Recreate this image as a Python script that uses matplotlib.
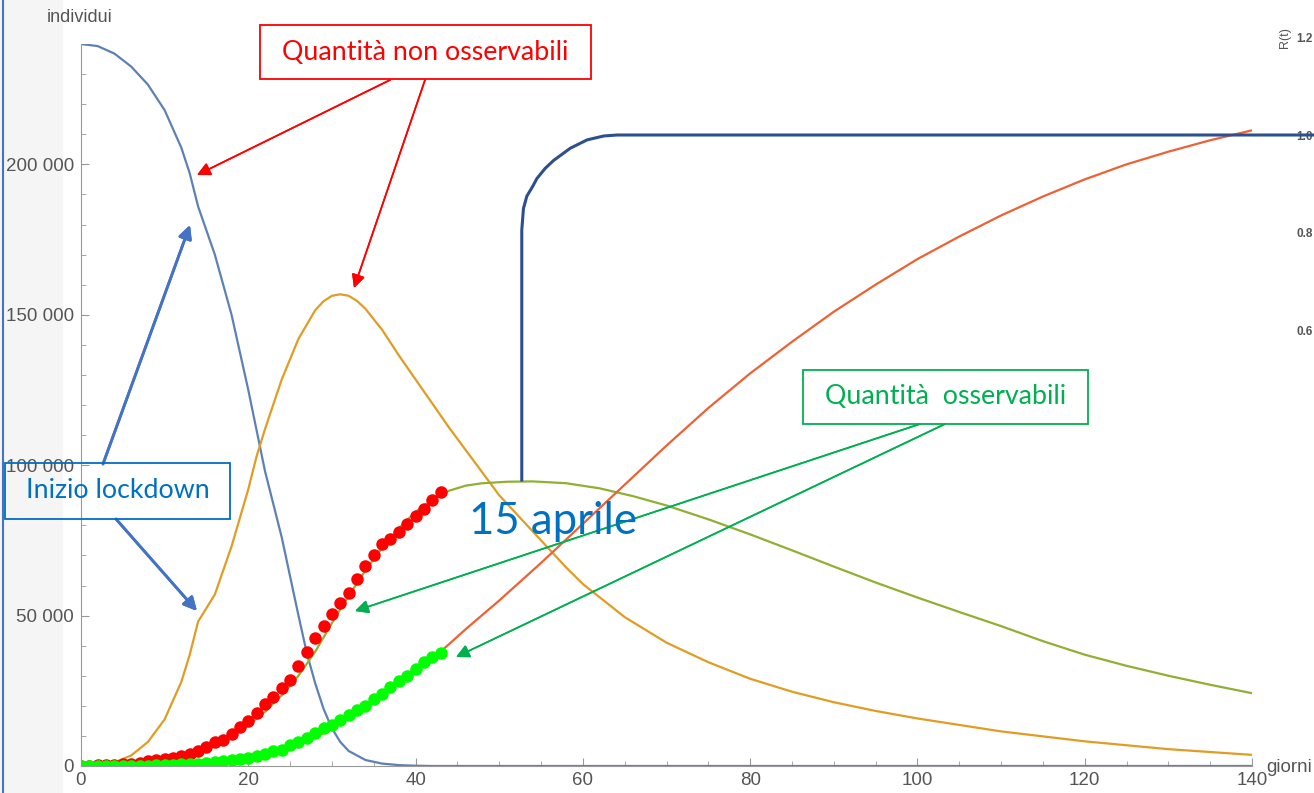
import numpy as np
import matplotlib.pyplot as plt
from matplotlib.patches import Rectangle
from matplotlib.lines import Line2D

W, H = 1314, 793

# ---- data ----
# susceptible (blue)
s_days = [0, 2, 4, 6, 8, 10, 12, 13, 14, 16, 18, 20, 22, 24, 26, 27, 28, 29, 30, 31, 32, 34, 36, 38, 40, 42, 140]
s_vals = [240000, 239300, 236800, 232500, 226500, 218000, 205500, 197000, 186000, 170000, 150000, 125000,
          98000, 76000, 50000, 37500, 27500, 19000, 12500, 8000, 5000, 2000, 800, 300, 100, 0, 0]

# infected, not observed (orange)
i_days = [0, 2, 4, 6, 8, 10, 12, 13, 14, 16, 18, 20, 21, 22, 24, 26, 28, 29, 30, 31, 32, 33, 34, 36, 38, 40,
          42, 44, 46, 48, 50, 52, 54, 56, 58, 60, 65, 70, 75, 80, 85, 90, 95, 100, 110, 120, 130, 140]
i_vals = [0, 300, 1200, 3500, 8000, 15500, 28000, 37000, 48000, 57000, 73000, 92000, 103000, 112000, 128500,
          142000, 151500, 154500, 156300, 156800, 156300, 154600, 152000, 145000, 136500, 128500, 120500,
          112500, 105000, 97500, 90000, 84000, 78000, 72000, 66000, 60500, 49500, 41000, 34500, 29000, 24700,
          21200, 18300, 15800, 11500, 8200, 5600, 3700]

# observed infected, model (green)
o_days = [0, 4, 8, 10, 12, 14, 16, 18, 20, 22, 24, 26, 28, 30, 32, 34, 36, 38, 40, 42, 44, 46, 48, 51, 54,
          58, 62, 66, 70, 75, 80, 85, 90, 95, 100, 105, 110, 115, 120, 125, 130, 135, 140]
o_vals = [0, 300, 1200, 2200, 3500, 5200, 7300, 10000, 13500, 18000, 23500, 30000, 38000, 47500, 56500,
          65000, 72500, 79000, 84500, 88500, 91500, 93200, 94000, 94500, 94600, 94000, 92300, 89700, 86600,
          82000, 77000, 71700, 66300, 61000, 56000, 51200, 46500, 41500, 37000, 33300, 30000, 27000, 24200]

# removed, model (red-orange)
r_days = [0, 10, 15, 20, 24, 28, 30, 32, 34, 36, 38, 40, 43, 46, 50, 55, 60, 65, 70, 75, 80, 85, 90, 95,
          100, 105, 110, 115, 120, 125, 130, 135, 140]
r_vals = [0, 200, 900, 2700, 5000, 9500, 12500, 16000, 19800, 24000, 28300, 32500, 38000, 45500, 55000,
          67500, 80500, 93500, 106500, 119000, 130500, 141000, 151000, 160000, 168500, 176000, 183000,
          189300, 195000, 200000, 204200, 208000, 211300]

# observed data points
data_days = list(range(44))
positivi = [76, 148, 221, 311, 385, 588, 821, 1049, 1577, 1835, 2263, 2706, 3296, 3916, 5061, 6387, 7985,
            8514, 10590, 12839, 14955, 17750, 20603, 23073, 26062, 28710, 33190, 37860, 42681, 46638, 50418,
            54030, 57521, 62013, 66414, 70065, 73880, 75528, 77635, 80572, 83049, 85388, 88274, 91246]
rimossi = [3, 4, 8, 11, 15, 62, 67, 79, 117, 201, 239, 383, 562, 720, 822, 988, 1187, 1635, 1872, 2274, 2705,
           3407, 4144, 4907, 5444, 7003, 7845, 9161, 10897, 12500, 13509, 15146, 16865, 18526, 20084, 22407,
           23809, 26211, 28157, 30002, 32193, 34439, 36358, 37702]

# R(t) overlay (right axis)
rt_days = [52.7, 52.7, 52.9, 53.3, 54.0, 54.5, 55.5, 56.5, 58.5, 60.5, 62.5, 64.1, 147.5]
rt_vals = [0.296, 0.806, 0.85, 0.875, 0.895, 0.911, 0.932, 0.948, 0.973, 0.99, 0.998, 1.0, 1.0]

x_ticks = [0, 20, 40, 60, 80, 100, 120, 140]
y_ticks = [0, 50000, 100000, 150000, 200000]
y_labels = ['0', '50 000', '100 000', '150 000', '200 000']
r_ticks = [0.6, 0.8, 1.0, 1.2]
r_labels = ['0.6', '0.8', '1.0', '1.2']

c_blue = '#5e81b5'
c_orange = '#e19c24'
c_green = '#8fb032'
c_red = '#eb6235'
c_rt = '#2d4f8f'
gray = '#555555'
office = 'Lato'


def fx(x):
    return x / W


def fy(y):
    return (H - y) / H


fig = plt.figure(figsize=(W / 100, H / 100), dpi=100)

# slide background strip at the left
fig.add_artist(Rectangle((0, 0), fx(62), 1, transform=fig.transFigure, color='#f5f5f5', zorder=0))
fig.add_artist(Line2D([fx(3), fx(3)], [0, 1], transform=fig.transFigure, color='#4472c4', lw=1.5))

ax = fig.add_axes([fx(81), fy(766), fx(1252) - fx(81), fy(44) - fy(766)])
ax.patch.set_alpha(0)
ax.plot(s_days, s_vals, color=c_blue, lw=1.6)
ax.plot(i_days, i_vals, color=c_orange, lw=1.6)
ax.plot(o_days, o_vals, color=c_green, lw=1.6)
ax.plot(r_days, r_vals, color=c_red, lw=1.6)
ax.plot(data_days, positivi, 'o', color='#ff0000', ms=9, mec='none')
ax.plot(data_days, rimossi, 'o', color='#00ff00', ms=9, mec='none')

ax.set_xlim(0, 140)
ax.set_ylim(0, 240000)
ax.set_xticks(x_ticks)
ax.set_xticks(np.arange(0, 141, 5), minor=True)
ax.set_yticks(y_ticks)
ax.set_yticklabels(y_labels)
ax.set_yticks(np.arange(0, 240001, 10000), minor=True)
for sp in ['top', 'right']:
    ax.spines[sp].set_visible(False)
for sp in ['left', 'bottom']:
    ax.spines[sp].set_color('#999999')
ax.tick_params(which='both', direction='in', color='#999999', labelcolor=gray, labelsize=13.5)
ax.tick_params(which='major', length=6)
ax.tick_params(which='minor', length=3.5)
ax.tick_params(axis='x', pad=4)
ax.tick_params(axis='y', pad=5)
for lab in ax.get_xticklabels() + ax.get_yticklabels():
    lab.set_family('Liberation Sans')

fig.text(fx(47), fy(18), 'individui', color=gray, fontsize=13, family='Liberation Sans', va='center')
fig.text(fx(1266), fy(767), 'giorni', color=gray, fontsize=13.5, family='Liberation Sans', va='center')

# R(t) axis
ax2 = fig.add_axes([fx(81), fy(766), fx(1295) - fx(81), fy(30) - fy(766)])
ax2.patch.set_alpha(0)
ax2.plot(rt_days, rt_vals, color=c_rt, lw=2.2, clip_on=False, zorder=3)
ax2.set_xlim(0, 1214 / 8.364)
ax2.set_ylim(-0.2878, 1.2143)
ax2.set_xticks([])
ax2.yaxis.tick_right()
ax2.set_yticks(r_ticks)
ax2.set_yticklabels(r_labels)
ax2.tick_params(axis='y', length=0, pad=1, labelcolor=gray, labelsize=8.5)
for lab in ax2.get_yticklabels():
    lab.set_fontweight('bold')
    lab.set_family('Liberation Sans')
for sp in ax2.spines.values():
    sp.set_visible(False)
fig.text(fx(1285), fy(38), 'R(t)', rotation=90, color=gray, fontsize=9, ha='center', va='center',
         family='Liberation Sans')

# annotation boxes
boxes = [
    ((260, 25, 591, 79), 'Quantità non osservabili', '#ff0000', '#ff0000'),
    ((803, 370, 1088, 424), 'Quantità  osservabili', '#00b050', '#00b050'),
    ((5, 463, 230, 519), 'Inizio lockdown', '#0070c0', '#0070c0'),
]
for (x0, y0, x1, y1), txt, ec, tc in boxes:
    fig.add_artist(Rectangle((fx(x0), fy(y1)), fx(x1) - fx(x0), fy(y0) - fy(y1), transform=fig.transFigure,
                             fill=False, ec=ec, lw=1.3, zorder=5))
    fig.text(fx((x0 + x1) / 2), fy((y0 + y1) / 2), txt, color=tc, fontsize=19.3, family=office,
             ha='center', va='center', zorder=6)

arrows = [
    ((390, 80), (197, 175), '#ff0000', 1.2),
    ((425, 80), (354, 288), '#ff0000', 1.2),
    ((920, 424), (355, 611), '#00b050', 1.2),
    ((945, 424), (456, 657), '#00b050', 1.2),
    ((103, 464), (190, 225), '#4472c4', 2.0),
    ((116, 519), (197, 611), '#4472c4', 2.0),
]
for (x0, y0), (x1, y1), col, lw in arrows:
    fig.add_artist(plt.annotate('', xy=(fx(x1), fy(y1)), xytext=(fx(x0), fy(y0)),
                                xycoords='figure fraction', textcoords='figure fraction',
                                arrowprops=dict(arrowstyle='-|>', color=col, lw=lw, mutation_scale=20,
                                                shrinkA=0, shrinkB=0)))

fig.text(fx(553), fy(521), '15 aprile', color='#0070c0', fontsize=31.5, family=office, ha='center',
         va='center', zorder=6)

fig.savefig('out.png', dpi=100)
